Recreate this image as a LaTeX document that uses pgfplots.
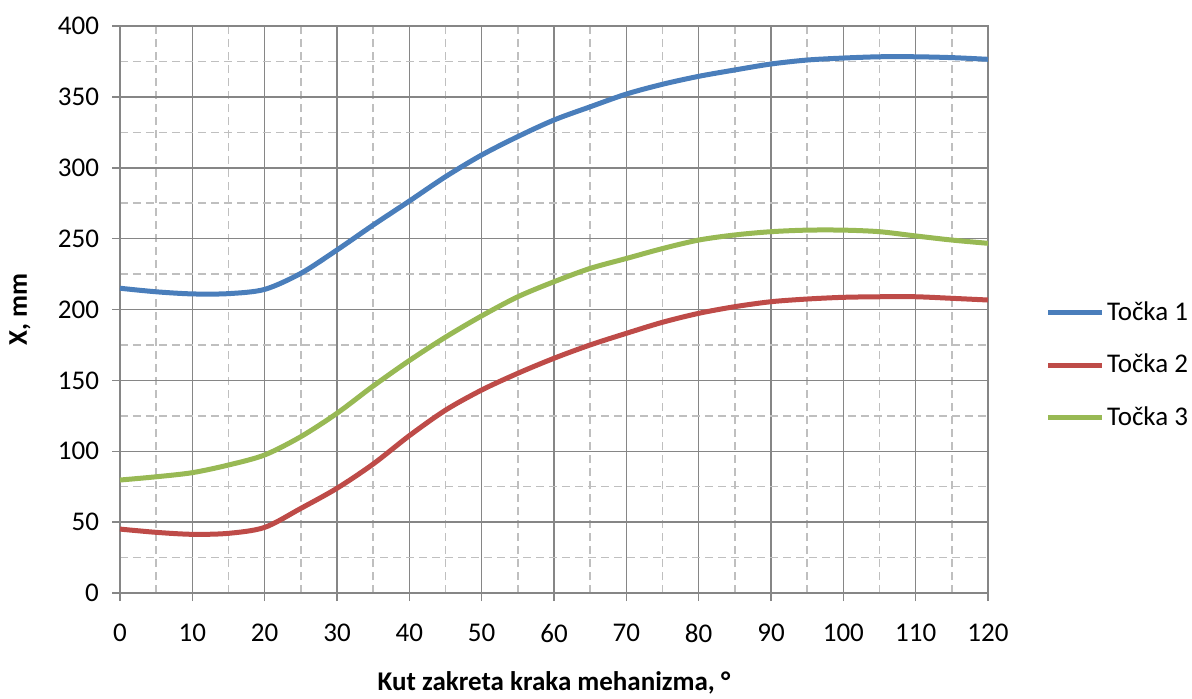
\documentclass[border=0pt]{standalone}
\usepackage{pgfplots}
\pgfplotsset{compat=1.18}
\usepackage{fontspec}
\setmainfont{Carlito}
\definecolor{cblue}{HTML}{4A7EBB}
\definecolor{cred}{HTML}{BE4B48}
\definecolor{cgreen}{HTML}{98B954}
\definecolor{gmaj}{HTML}{868686}
\definecolor{gmin}{HTML}{BFBFBF}
\begin{document}
\begin{tikzpicture}
\path[use as bounding box] (-60pt,-52.5pt) rectangle (536pt,296.5pt);
\begin{axis}[
  at={(0,0)}, anchor=south west,
  scale only axis, width=434pt, height=283.5pt,
  xmin=0, xmax=120, ymin=0, ymax=400,
  xtick={0,10,...,120}, ytick={0,50,...,400},
  minor tick num=1,
  grid=both,
  major grid style={draw=gmaj, line width=0.75pt},
  minor grid style={draw=gmin, line width=0.75pt, dash pattern=on 4pt off 2.5pt},
  axis line style={draw=gmaj, line width=0.75pt},
  tick align=outside, tick pos=left,
  major tick length=4pt, minor tick length=0pt,
  every tick/.style={draw=gmaj, line width=0.75pt},
  tick label style={font=\fontsize{13.5}{16}\selectfont},
  /pgf/number format/assume math mode=true,
  yticklabel style={xshift=-3pt},
  xticklabel style={yshift=-8pt},
  xlabel={\bfseries Kut zakreta kraka mehanizma, °},
  ylabel={\bfseries X, mm},
  label style={font=\fontsize{13.5}{16}\selectfont},
  xlabel style={at={(0.5,0)}, anchor=center, yshift=-45pt},
  ylabel style={at={(0,0.5)}, anchor=center, rotate=0, yshift=50pt},
  legend style={draw=none, at={(1.059,0.402)}, anchor=west, fill=none,
    font=\fontsize{13.5}{16}\selectfont, row sep=15.5pt,
    nodes={inner xsep=1.2pt, inner ysep=0pt}},
  legend cell align=left,
  legend image code/.code={\draw[#1] (0pt,0pt) -- (27pt,0pt);},
  every axis plot/.append style={line width=2.5pt, smooth, tension=0.5, no markers},
]
\addplot[cblue] coordinates {
(0,215) (5,212.5) (10,211) (15,211.2) (20,214.2) (25,225.5) (30,242) (35,259.6) (40,276.5) (45,293.7) (50,309) (55,322) (60,333.7) (65,343) (70,352) (75,358.9) (80,364.5) (85,369) (90,373.2) (95,376) (100,377.4) (105,378.3) (110,378.3) (115,377.7) (120,376.5)};
\addlegendentry{Točka 1}
\addplot[cred] coordinates {
(0,45.1) (5,42.8) (10,41.4) (15,42.1) (20,46.3) (25,59.7) (30,73.9) (35,91) (40,111) (45,129) (50,143.2) (55,155) (60,165.6) (65,175) (70,183.2) (75,191) (80,197.3) (85,202) (90,205.5) (95,207.4) (100,208.6) (105,209) (110,209) (115,207.9) (120,206.7)};
\addlegendentry{Točka 2}
\addplot[cgreen] coordinates {
(0,79.7) (5,82) (10,84.9) (15,90.3) (20,97.4) (25,110.3) (30,126.8) (35,146) (40,164) (45,180.5) (50,195.5) (55,209) (60,219.6) (65,229) (70,236) (75,243) (80,249) (85,252.6) (90,254.9) (95,256) (100,256) (105,254.9) (110,251.9) (115,249) (120,246.7)};
\addlegendentry{Točka 3}
\end{axis}
\end{tikzpicture}
\end{document}
